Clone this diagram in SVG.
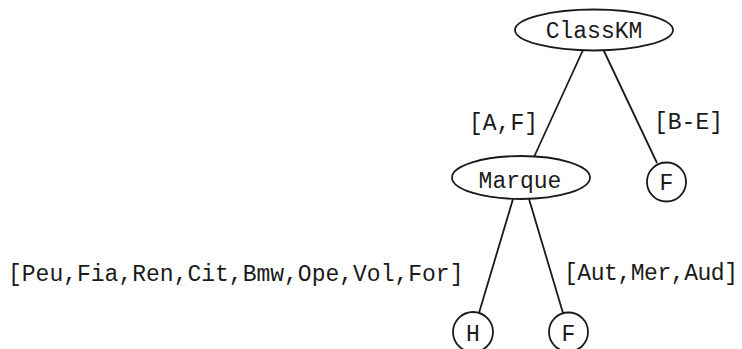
<svg xmlns="http://www.w3.org/2000/svg" width="742" height="349" viewBox="0 0 742 349">
<style>
.n{fill:#fff;stroke:#1a1a1a;stroke-width:1.8}
.t{font-family:"Liberation Mono","DejaVu Sans Mono",monospace;font-size:23px;fill:#1a1a1a}
.c{text-anchor:middle}
.e{stroke:#1a1a1a;stroke-width:1.8;fill:none}
</style>
<rect width="742" height="349" fill="#fff"/>
<g id="connectors">
<line class="e" x1="583" y1="50" x2="534" y2="157"/>
<line class="e" x1="603" y1="49" x2="657" y2="163"/>
<line class="e" x1="513" y1="199" x2="479" y2="313"/>
<line class="e" x1="529" y1="199" x2="563" y2="313"/>
<text class="t" x="469" y="130">[A,F]</text>
<text class="t" x="654" y="129">[B-E]</text>
<text class="t" x="8" y="281">[Peu,Fia,Ren,Cit,Bmw,Ope,Vol,For]</text>
<text class="t" x="564" y="280" textLength="174">[Aut,Mer,Aud]</text>
</g>
<g id="ClassKM">
<ellipse class="n" cx="594" cy="30" rx="79" ry="20.5"/>
<text class="t c" x="594" y="37.5">ClassKM</text>
</g>
<g id="Marque">
<ellipse class="n" cx="521" cy="177.5" rx="69" ry="21.5"/>
<text class="t c" x="520" y="187.5">Marque</text>
</g>
<g id="F1">
<circle class="n" cx="666.5" cy="182" r="19.5"/>
<text class="t c" x="666.5" y="190">F</text>
</g>
<g id="H">
<circle class="n" cx="473" cy="332" r="20"/>
<text class="t c" x="473" y="341">H</text>
</g>
<g id="F2">
<circle class="n" cx="568.5" cy="332" r="19.5"/>
<text class="t c" x="568.5" y="341">F</text>
</g>
</svg>
